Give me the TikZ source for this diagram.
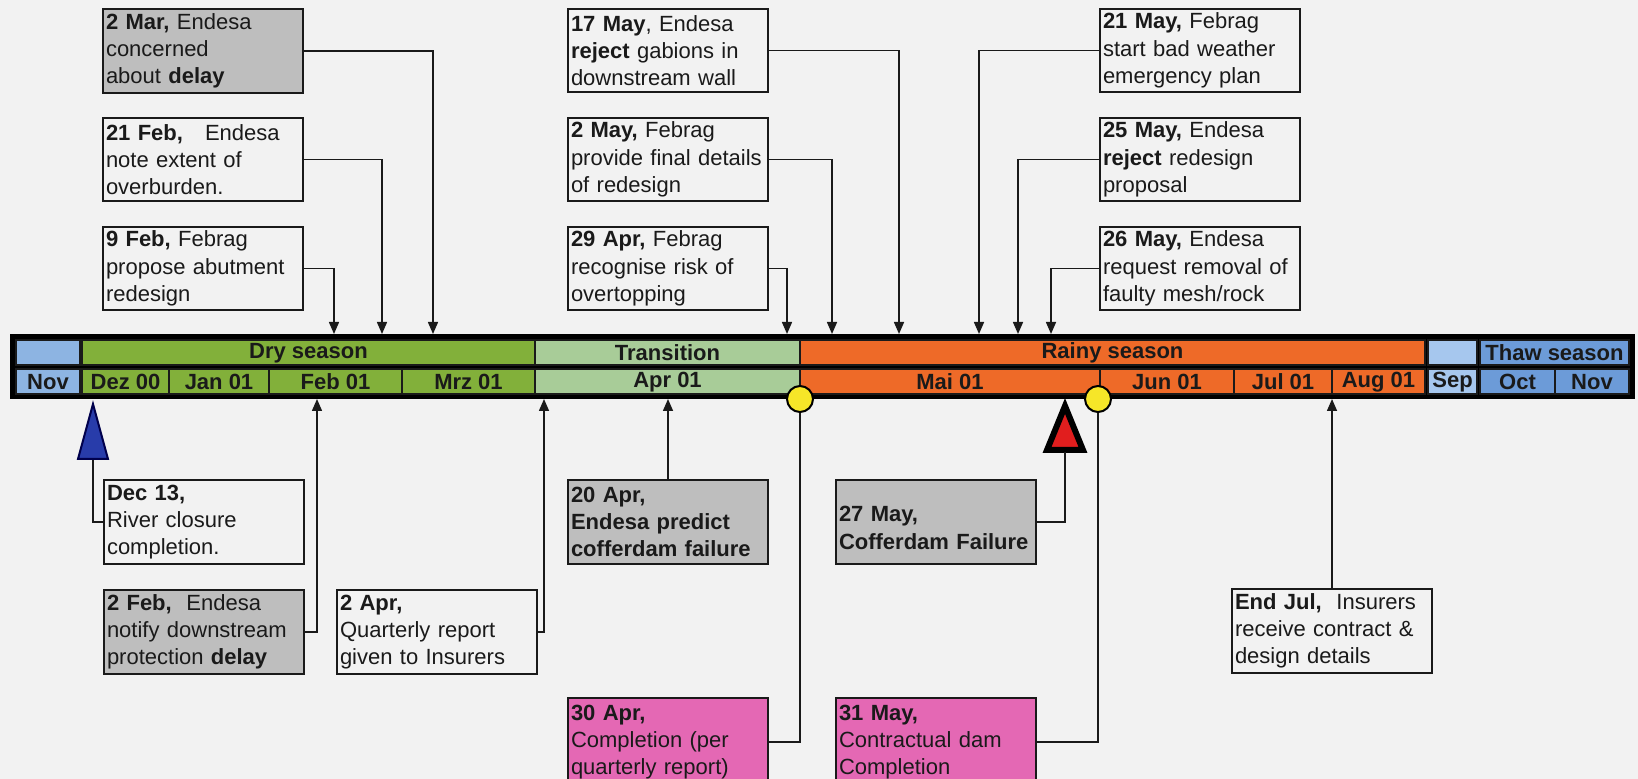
\documentclass[tikz,border=0pt]{standalone}
\usepackage{fontspec}
\setmainfont{Liberation Sans}
\usetikzlibrary{arrows.meta}
\definecolor{bg}{RGB}{242,242,242}
\definecolor{novc}{RGB}{141,180,226}
\definecolor{sepc}{RGB}{166,199,238}
\definecolor{thawc}{RGB}{108,155,216}
\definecolor{dryc}{RGB}{130,176,58}
\definecolor{transc}{RGB}{168,204,152}
\definecolor{rainyc}{RGB}{238,106,40}
\definecolor{grayfill}{RGB}{190,190,190}
\definecolor{pinkfill}{RGB}{228,104,180}
\definecolor{ink}{RGB}{26,26,26}
\definecolor{yel}{RGB}{246,230,40}
\definecolor{triblue}{RGB}{40,60,170}
\definecolor{trired}{RGB}{225,30,30}
\newcommand\barcell[6]{%
  \draw[cellline,fill=#5] (#2,#4) rectangle (#3,#4+25);
  \node[celltext] (#1) at ({(#2+#3)/2},#4+13) {#6};}
\begin{document}
\begin{tikzpicture}[x=0.5pt,y=-0.5pt,
  evt/.style={draw=ink, line width=1pt, anchor=north west, text width=97pt,
    inner xsep=1.5pt, inner ysep=0pt, minimum height=41.5pt, align=left,
    font=\fontsize{11}{13.6}\selectfont, text=ink,
    execute at begin node={\hyphenpenalty=10000\exhyphenpenalty=10000}},
  evtlow/.style={evt, minimum height=42pt},
  evtgray/.style={evtlow, fill=grayfill},
  evtpink/.style={evt, fill=pinkfill, minimum height=44pt},
  conn/.style={draw=ink, line width=0.75pt},
  arr/.style={conn, -{Triangle[width=5pt,length=6pt]}},
  cellline/.style={draw=ink, line width=0.6pt},
  celltext/.style={font=\fontsize{11}{13}\selectfont\bfseries, text=ink, inner sep=0pt},
]
\fill[bg] (0,0) rectangle (1638,779);
\useasboundingbox (0,0) rectangle (1638,779);

% ---- timeline bar ----
\fill[black] (10,334) rectangle (1635,399);
\barcell{tnov}{16}{80}{340}{novc}{}
\barcell{tdry}{82}{535}{340}{dryc}{Dry season}
\barcell{ttrans}{535}{800}{340}{transc}{Transition}
\barcell{train}{800}{1425}{340}{rainyc}{Rainy season}
\barcell{tsep}{1428}{1477}{340}{sepc}{}
\barcell{tthaw}{1480}{1629}{340}{thawc}{Thaw season}
\barcell{mnov}{16}{80}{369}{novc}{Nov}
\barcell{mdez}{82}{169}{369}{dryc}{Dez 00}
\barcell{mjan}{169}{269}{369}{dryc}{Jan 01}
\barcell{mfeb}{269}{402}{369}{dryc}{Feb 01}
\barcell{mmrz}{402}{535}{369}{dryc}{Mrz 01}
\barcell{mapr}{535}{800}{369}{transc}{Apr 01}
\barcell{mmai}{800}{1100}{369}{rainyc}{Mai 01}
\barcell{mjun}{1100}{1234}{369}{rainyc}{Jun 01}
\barcell{mjul}{1234}{1332}{369}{rainyc}{Jul 01}
\barcell{maug}{1332}{1425}{369}{rainyc}{Aug 01}
\barcell{msep}{1428}{1477}{369}{sepc}{Sep}
\barcell{moct}{1480}{1555}{369}{thawc}{Oct}
\barcell{mnovb}{1555}{1629}{369}{thawc}{Nov}

\coordinate (bartop) at (0,334);
\coordinate (barbot) at (0,399);

% ---- top event boxes ----
\node[evtgray] (b2mar) at (102,8) {\textbf{2 Mar,} Endesa\\concerned\\about \textbf{delay}};
\node[evt] (b21feb) at (102,117) {\textbf{21 Feb,}~~~Endesa\\note extent of\\overburden.};
\node[evt] (b9feb) at (102,226) {\textbf{9 Feb,} Febrag\\propose abutment\\redesign};
\node[evt] (b17may) at (567,8) {\textbf{17 May}, Endesa\\\textbf{reject} gabions in\\downstream wall};
\node[evt] (b2may) at (567,117) {\textbf{2 May,} Febrag\\\mbox{provide final details}\\of redesign};
\node[evt] (b29apr) at (567,226) {\textbf{29 Apr,} Febrag\\recognise risk of\\overtopping};
\node[evt] (b21may) at (1099,8) {\textbf{21 May,} Febrag\\start bad weather\\emergency plan};
\node[evt] (b25may) at (1099,117) {\textbf{25 May,} Endesa\\\textbf{reject} redesign\\proposal};
\node[evt] (b26may) at (1099,226) {\textbf{26 May,} Endesa\\\mbox{request removal of}\\faulty mesh/rock};

\coordinate (a2mar) at (433,334);
\coordinate (a21feb) at (382,334);
\coordinate (a9feb) at (334,334);
\coordinate (a17may) at (899,334);
\coordinate (a2may) at (832,334);
\coordinate (a29apr) at (787,334);
\coordinate (a21may) at (979,334);
\coordinate (a25may) at (1018,334);
\coordinate (a26may) at (1051,334);

\draw[arr] (b2mar.east) -| (a2mar);
\draw[arr] (b21feb.east) -| (a21feb);
\draw[arr] (b9feb.east) -| (a9feb);
\draw[arr] (b17may.east) -| (a17may);
\draw[arr] (b2may.east) -| (a2may);
\draw[arr] (b29apr.east) -| (a29apr);
\draw[arr] (b21may.west) -| (a21may);
\draw[arr] (b25may.west) -| (a25may);
\draw[arr] (b26may.west) -| (a26may);

% ---- markers ----
\draw[fill=triblue, draw=black!70!blue, line width=1pt, line join=miter]
  (93,404) -- (108,459) -- (78,459) -- cycle;
\coordinate (t1base) at (93,460);
\draw[fill=trired, draw=black, line width=3pt, line join=miter]
  (1065,406) -- (1083,450) -- (1047,450) -- cycle;
\coordinate (t2base) at (1065,452);
\node[circle, draw=black, line width=1pt, fill=yel, minimum size=13pt, inner sep=0pt] (c1) at (800,399) {};
\node[circle, draw=black, line width=1pt, fill=yel, minimum size=13pt, inner sep=0pt] (c2) at (1098,399) {};

% ---- bottom event boxes ----
\node[evtlow] (bdec13) at (103,479) {\textbf{Dec 13,}\\River closure\\completion.};
\node[evtgray] (b2feb) at (103,589) {\textbf{2 Feb,}~~Endesa\\\mbox{notify downstream}\\protection \textbf{delay}};
\node[evtlow] (b2apr) at (336,589) {\textbf{2 Apr,}\\Quarterly report\\given to Insurers};
\node[evtgray] (b20apr) at (567,479) {\textbf{20 Apr,}\\\textbf{Endesa predict}\\\mbox{\textbf{cofferdam failure}}};
\node[evtgray] (b27may) at (835,479) {\mbox{}\\\textbf{27 May,}\\\mbox{\textbf{Cofferdam Failure}}};
\node[evtpink] (b30apr) at (567,697) {\textbf{30 Apr,}\\Completion (per\\quarterly report)};
\node[evtpink] (b31may) at (835,697) {\textbf{31 May,}\\Contractual dam\\Completion};
\node[evtlow] (bendjul) at (1231,588) {\textbf{End Jul,}~~Insurers\\receive contract \&\\design details};

\coordinate (a2feb) at (317,399);
\coordinate (a2apr) at (544,399);

\draw[conn] (t1base) |- (bdec13.west);
\draw[arr] (b2feb.east) -| (a2feb);
\draw[arr] (b2apr.east) -| (a2apr);
\draw[arr] (b20apr.north) -- (b20apr.north |- barbot);
\draw[conn] (b27may.east) -| (t2base);
\draw[conn] (b30apr.east) -| (c1.south);
\draw[conn] (b31may.east) -| (c2.south);
\draw[arr] (bendjul.north) -- (bendjul.north |- barbot);
\end{tikzpicture}
\end{document}
